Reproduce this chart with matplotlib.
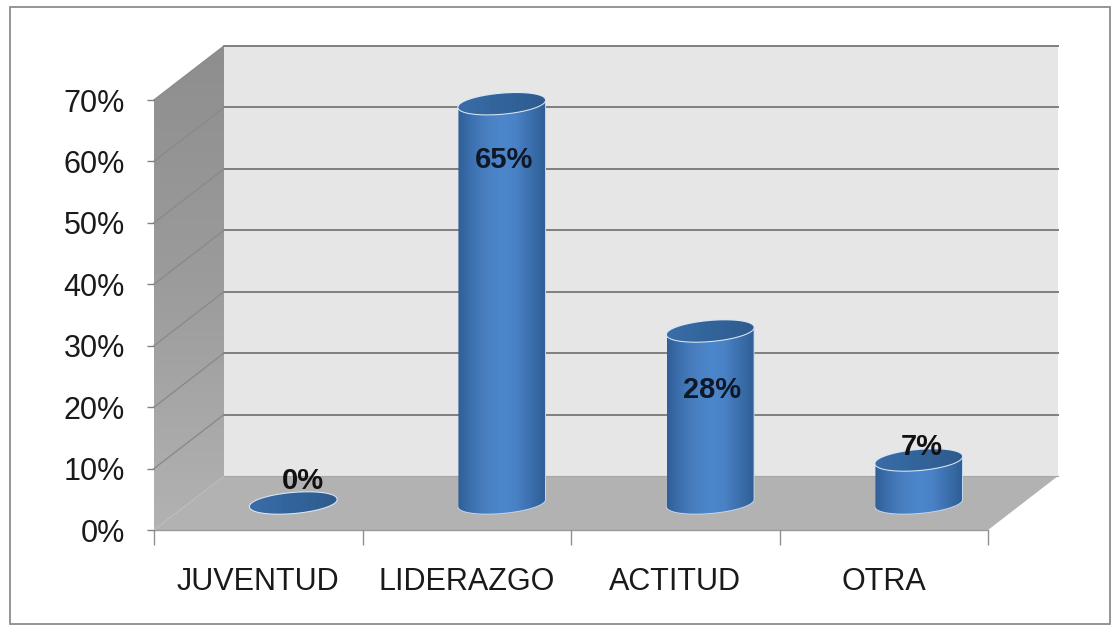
import numpy as np
import matplotlib
matplotlib.use("Agg")
import matplotlib.pyplot as plt
from matplotlib.colors import LinearSegmentedColormap
from matplotlib.patches import Polygon, Rectangle, PathPatch
from matplotlib.path import Path

categories = ["JUVENTUD", "LIDERAZGO", "ACTITUD", "OTRA"]
values = [0, 65, 28, 7]
value_labels = ["0%", "65%", "28%", "7%"]
y_ticks = [0, 10, 20, 30, 40, 50, 60, 70]
y_tick_labels = ["0%", "10%", "20%", "30%", "40%", "50%", "60%", "70%"]

W, H = 1116, 626
plt.rcParams["font.family"] = ["Liberation Sans", "DejaVu Sans"]

fig = plt.figure(figsize=(W / 100, H / 100), dpi=100, facecolor="white")
# front plane of the fake 3d box, in pixels
left, right, bottom, top = 154, 988, 530, 100
px_x = 4 / (right - left)
px_y = 70 / (bottom - top)
dx = 70 * px_x
dy = 54 * px_y

# ax only holds ticks and tick labels, art is the same scale over the whole figure
# because images get cut at the axes box otherwise
art = fig.add_axes([0, 0, 1, 1], zorder=1)
art.axis("off")
ax = fig.add_axes([left / W, 1 - bottom / H, (right - left) / W, (bottom - top) / H], zorder=2)
ax.set_facecolor("none")

# outer border
fig.add_artist(Rectangle((9.5 / W, 1 - 623.5 / H), 1100 / W, 616.5 / H, transform=fig.transFigure,
                         fill=False, edgecolor="#8c8c8c", linewidth=1.3))

# walls
back = Polygon([(dx, dy), (4 + dx, dy), (4 + dx, 70 + dy), (dx, 70 + dy)], closed=True,
               facecolor="#e6e6e6", edgecolor="none", zorder=1)
art.add_patch(back)
floor = Polygon([(0, 0), (4, 0), (4 + dx, dy), (dx, dy)], closed=True,
                facecolor="#b2b2b2", edgecolor="none", zorder=1)
art.add_patch(floor)
wall_cmap = LinearSegmentedColormap.from_list("wall", ["#8e8e8e", "#9c9c9c", "#b2b2b2"])
wall = Polygon([(0, 0), (dx, dy), (dx, 70 + dy), (0, 70)], closed=True,
               facecolor="none", edgecolor="none", zorder=1)
art.add_patch(wall)
im = art.imshow(np.linspace(0, 1, 100).reshape(-1, 1), cmap=wall_cmap, aspect="auto",
                extent=(0, dx, 0, 70 + dy), origin="upper", zorder=1)
im.set_clip_path(wall)

# grid on the back wall and left wall
for v in y_ticks[1:]:
    art.plot([dx, 4 + dx], [v + dy, v + dy], color="#7f7f7f", lw=1.4, zorder=2)
    art.plot([0, dx], [v, v + dy], color="#8a8a8a", lw=1.0, zorder=2)
art.plot([dx, 4 + dx], [dy, dy], color="#a6a6a6", lw=0.8, zorder=2)
art.plot([0, 4], [0, 0], color="#9a9a9a", lw=1.0, zorder=2)

# cylinders
body_cmap = LinearSegmentedColormap.from_list(
    "body", ["#2f5f98", "#3e73b2", "#4a80c2", "#4c86cc", "#4a82c6", "#3c70ae", "#2f5f96"])
cap_cmap = LinearSegmentedColormap.from_list("cap", ["#3a6ca8", "#32649b", "#2f5c8e"])
rx, ry, tilt = 43.5, 10.0, np.radians(5)
t = np.linspace(0, 2 * np.pi, 121)
# label nudges in pixels: sideways, up
label_shift = [(10, 22), (2, -56), (2, -59), (3, 13)]


def ellipse_px(angles):
    ex = rx * np.cos(angles)
    ey = ry * np.sin(angles)
    return ex * np.cos(tilt) - ey * np.sin(tilt), ex * np.sin(tilt) + ey * np.cos(tilt)


for i, v in enumerate(values):
    cx = i + 0.5 + dx / 2
    cy0 = dy / 2
    # body: lower half of the bottom ellipse, then back over the top
    low = np.linspace(np.pi, 2 * np.pi, 60)
    lx, ly = ellipse_px(low)
    high = np.linspace(0, np.pi, 60)
    hx, hy = ellipse_px(high)
    xs = np.concatenate([cx + lx * px_x, cx + hx * px_x])
    ys = np.concatenate([cy0 + ly * px_y, cy0 + v + hy * px_y])
    if v > 0:
        verts = np.column_stack([xs, ys])
        body = PathPatch(Path(verts), facecolor="none", edgecolor="#c4d8ee", lw=1.3, zorder=3)
        art.add_patch(body)
        grad = art.imshow(np.linspace(0, 1, 100).reshape(1, -1), cmap=body_cmap, aspect="auto",
                          extent=(cx - rx * px_x, cx + rx * px_x, cy0 - 15 * px_y, cy0 + v + 15 * px_y),
                          zorder=3)
        grad.set_clip_path(body)
    ex, ey = ellipse_px(t)
    cap = Polygon(np.column_stack([cx + ex * px_x, cy0 + v + ey * px_y]), closed=True,
                  facecolor="none", edgecolor="#dbe8f5", lw=1.5, zorder=4)
    art.add_patch(cap)
    cap_im = art.imshow(np.linspace(0, 1, 50).reshape(1, -1), cmap=cap_cmap, aspect="auto",
                        extent=(cx - rx * px_x, cx + rx * px_x, cy0 + v - 12 * px_y, cy0 + v + 12 * px_y),
                        zorder=4)
    cap_im.set_clip_path(cap)
    sx, sy = label_shift[i]
    art.annotate(value_labels[i], (cx, cy0 + v), xytext=(sx * 0.72, sy * 0.72), textcoords="offset points",
                 ha="center", va="center", fontsize=21, fontweight="bold",
                 color="#101828" if v > 20 else "#111111", zorder=5)

art.set_xlim(-left * px_x, (W - left) * px_x)
art.set_ylim(-(H - bottom) * px_y, bottom * px_y)

ax.set_xlim(0, 4)
ax.set_ylim(0, 70)

for s in ax.spines.values():
    s.set_visible(False)

ax.set_yticks(y_ticks)
ax.set_yticklabels(y_tick_labels, fontsize=22, color="#1a1a1a")
ax.tick_params(axis="y", length=5, width=1, color="#808080", pad=16)
ax.set_xticks(range(5))
ax.set_xticklabels([])
ax.tick_params(axis="x", which="major", length=11, width=1, color="#909090")
ax.set_xticks(np.arange(4) + 0.5, minor=True)
ax.set_xticklabels(categories, minor=True, fontsize=22, color="#1a1a1a")
ax.tick_params(axis="x", which="minor", length=0, pad=27)

fig.savefig("out.png", dpi=100, facecolor="white")
